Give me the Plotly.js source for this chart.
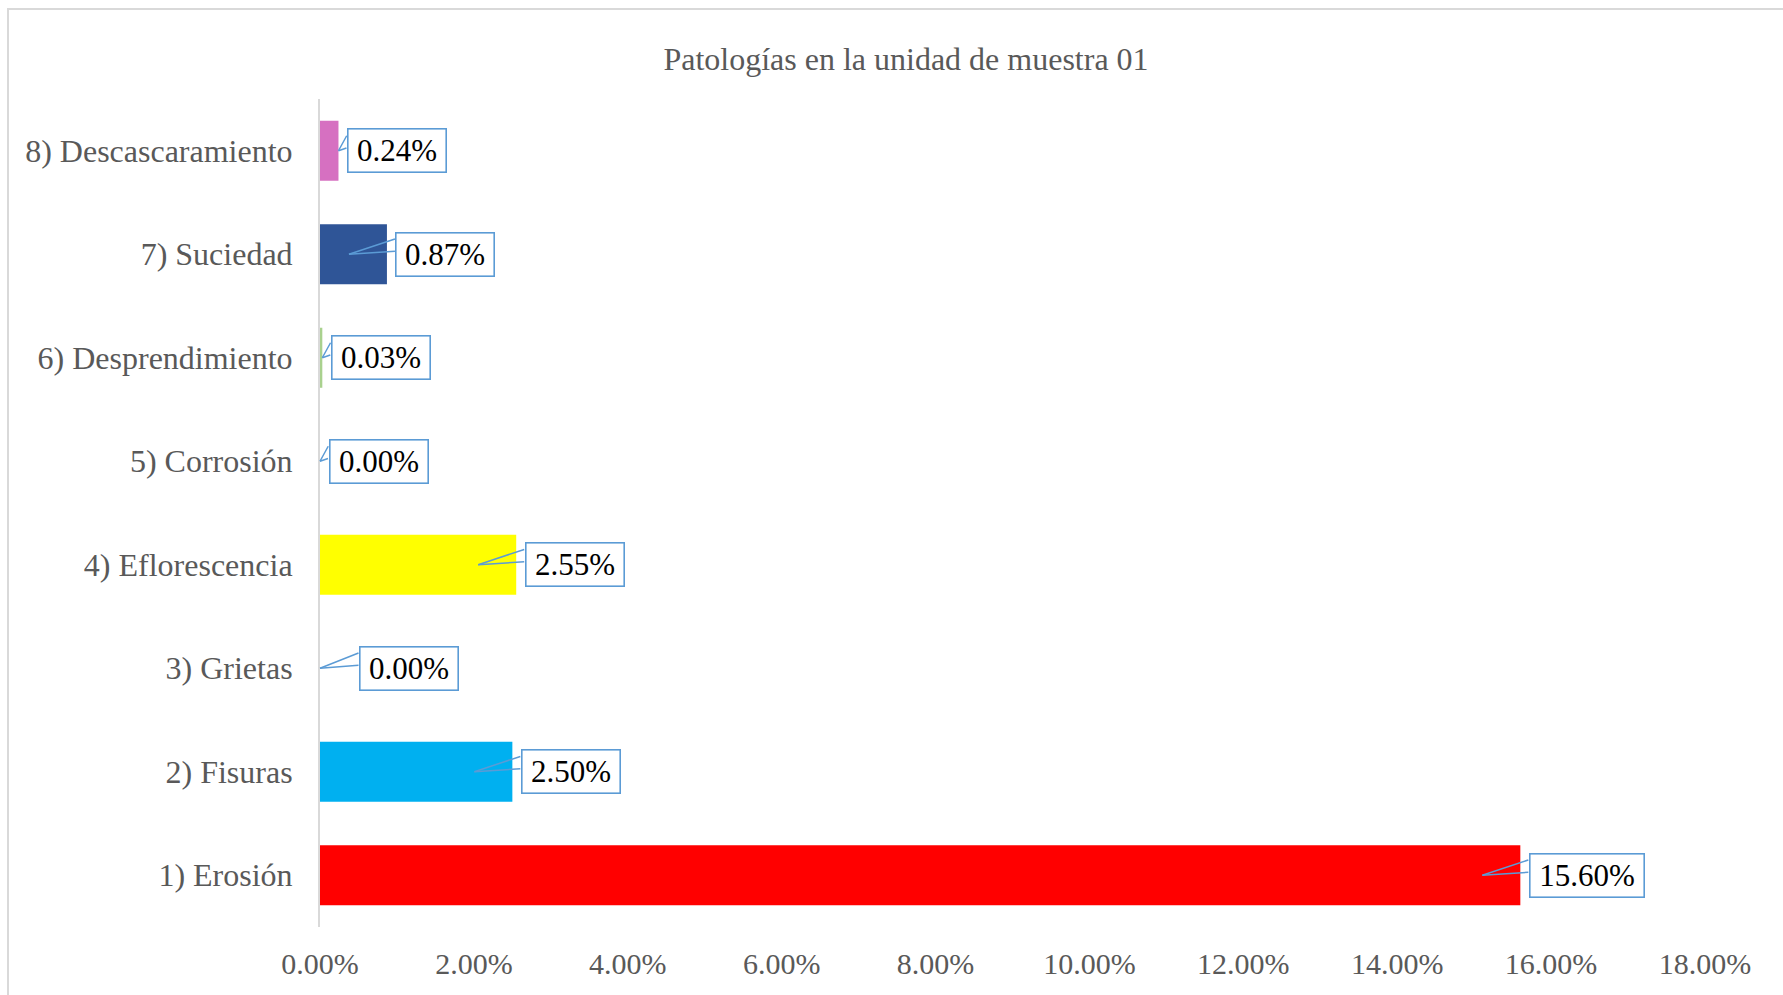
<!DOCTYPE html>
<html>
<head>
<meta charset="utf-8">
<script src="https://cdn.plot.ly/plotly-3.0.1.min.js"></script>
<style>
  html, body { margin: 0; padding: 0; background: #ffffff; overflow: hidden; }
  #frame { position: absolute; left: 7px; top: 8px; width: 1900px; height: 1100px;
           border-left: 2px solid #D9D9D9; border-top: 2px solid #D9D9D9; box-sizing: border-box; }
  #chart { position: absolute; left: 0; top: 0; width: 1783px; height: 995px; }
</style>
</head>
<body>
<div id="frame"></div>
<div id="chart"></div>
<script>
// ---- data ----
const categories = ["1) Erosión", "2) Fisuras", "3) Grietas", "4) Eflorescencia",
                    "5) Corrosión", "6) Desprendimiento", "7) Suciedad", "8) Descascaramiento"];
const values = [15.60, 2.50, 0.00, 2.55, 0.00, 0.03, 0.87, 0.24];   // percent
const barColors = ["#FF0000", "#00B0F0", "#A5A5A5", "#FFFF00", "#ED7D31", "#A9D18E", "#2F5597", "#D670C1"];
const tickVals = [0, 2, 4, 6, 8, 10, 12, 14, 16, 18];
const tickText = tickVals.map(v => v.toFixed(2) + "%");
const title = "Patologías en la unidad de muestra 01";

// ---- layout geometry ----
const W = 1783, H = 995;
const margin = {l: 320, r: 78, t: 99, b: 68};
const xMax = 18;
const pxPerUnit = (W - margin.l - margin.r) / xMax;
const labelGap = {"3) Grietas": 39};   // callout placed further out for this one
const boxH = 45;
const calloutColor = "#5B9BD5";
const font = "Liberation Serif, Times New Roman, serif";

const annotations = [];
categories.forEach((c, i) => {
  const v = values[i];
  const label = v.toFixed(2) + "%";
  const barPx = v * pxPerUnit;
  const gap = labelGap[c] !== undefined ? labelGap[c] : 8.5;
  const boxW = 100 + 16 * (label.length - 5);
  // box
  annotations.push({
    x: v, y: c, xref: "x", yref: "y",
    xanchor: "left", yanchor: "middle", xshift: gap,
    text: label, showarrow: false,
    font: {family: font, size: 31, color: "#000000"},
    bgcolor: "#ffffff", bordercolor: calloutColor, borderwidth: 1.6, borderpad: 0,
    width: boxW - 3, height: boxH - 3, align: "center", valign: "middle"
  });
  // pointer wedge (two lines)
  const tipShift = barPx > 40 ? -38 : 0;
  const tailX = gap - tipShift;
  [-(boxH / 2 - 7), -3].forEach(dy => {
    annotations.push({
      x: v, y: c, xref: "x", yref: "y", xshift: tipShift,
      text: "", showarrow: true, arrowhead: 0, arrowwidth: 1.5, arrowcolor: calloutColor,
      ax: tailX, ay: dy, axref: "pixel", ayref: "pixel", standoff: 0, startstandoff: 0,
      font: {size: 1}, borderpad: 0
    });
  });
});

const trace = {
  type: "bar", orientation: "h",
  x: values, y: categories,
  marker: {color: barColors, line: {width: 0}},
  hoverinfo: "x+y"
};

const layout = {
  width: W, height: H,
  margin: margin,
  paper_bgcolor: "rgba(0,0,0,0)", plot_bgcolor: "rgba(0,0,0,0)",
  showlegend: false,
  bargap: 0.42,
  title: {
    text: title, font: {family: font, size: 32, color: "#595959"},
    x: 906 / W, xref: "container", xanchor: "center",
    y: 1 - 59 / H, yref: "container", yanchor: "middle"
  },
  xaxis: {
    range: [0, xMax], tickvals: tickVals, ticktext: tickText,
    showgrid: false, zeroline: false, showline: false, ticks: "",
    tickfont: {family: font, size: 30, color: "#595959"},
    ticklabelstandoff: 16, fixedrange: true
  },
  yaxis: {
    type: "category", categoryorder: "array", categoryarray: categories,
    showgrid: false, zeroline: false, showline: true, linecolor: "#D9D9D9", linewidth: 2,
    ticks: "", tickfont: {family: font, size: 32, color: "#595959"},
    ticklabelstandoff: 19, fixedrange: true
  },
  annotations: annotations
};

Plotly.newPlot("chart", [trace], layout, {displayModeBar: false, staticPlot: true});
</script>
</body>
</html>
